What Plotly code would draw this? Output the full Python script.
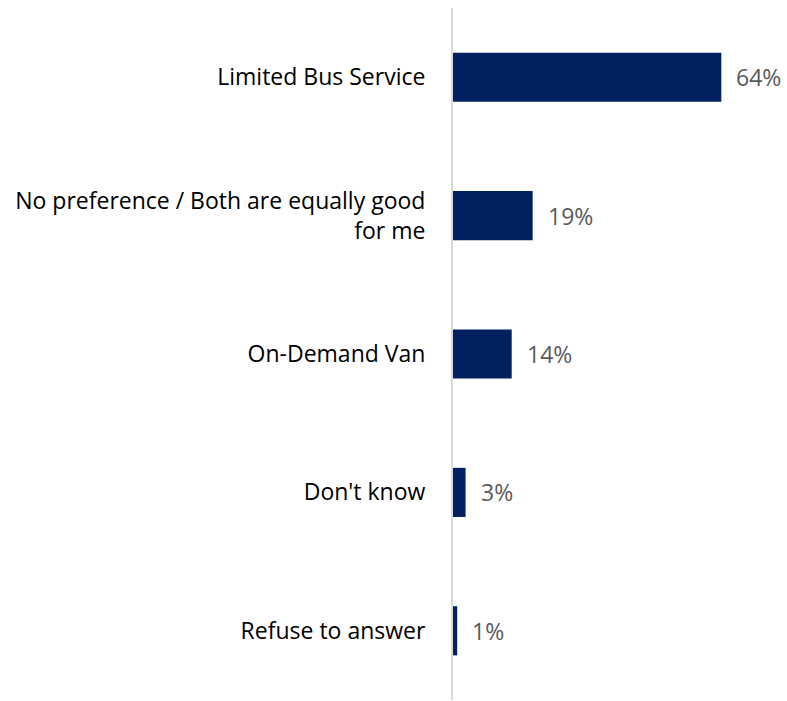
import plotly.graph_objects as go

categories = ["Limited Bus Service", "No preference / Both are equally good<br>for me",
              "On-Demand Van", "Don't know", "Refuse to answer"]
values = [64, 19, 14, 3, 1]
value_labels = ["64%", "19%", "14%", "3%", "1%"]

FONT = "Open Sans"
fig = go.Figure(go.Bar(
    y=categories, x=values, orientation="h",
    marker=dict(color="#002060", line=dict(width=0)),
    width=0.355,
))
for c, v, t in zip(categories, values, value_labels):
    fig.add_annotation(x=v, y=c, text=t, showarrow=False, xanchor="left",
                       xshift=13, font=dict(family=FONT, size=23, color="#595959"))

fig.update_layout(
    width=787, height=701,
    margin=dict(l=453, r=7, t=8, b=1),
    paper_bgcolor="white", plot_bgcolor="white",
    showlegend=False,
    font=dict(family=FONT, size=23, color="#000000"),
    xaxis=dict(range=[0, 78], showgrid=False, zeroline=False, showticklabels=False,
               showline=False, fixedrange=True),
    yaxis=dict(autorange="reversed", showgrid=False, zeroline=False,
               showline=True, linecolor="#d9d9d9", linewidth=2,
               ticks="", ticklabelstandoff=21,
               tickfont=dict(family=FONT, size=23, color="#000000")),
)
fig.write_html("out.html")
